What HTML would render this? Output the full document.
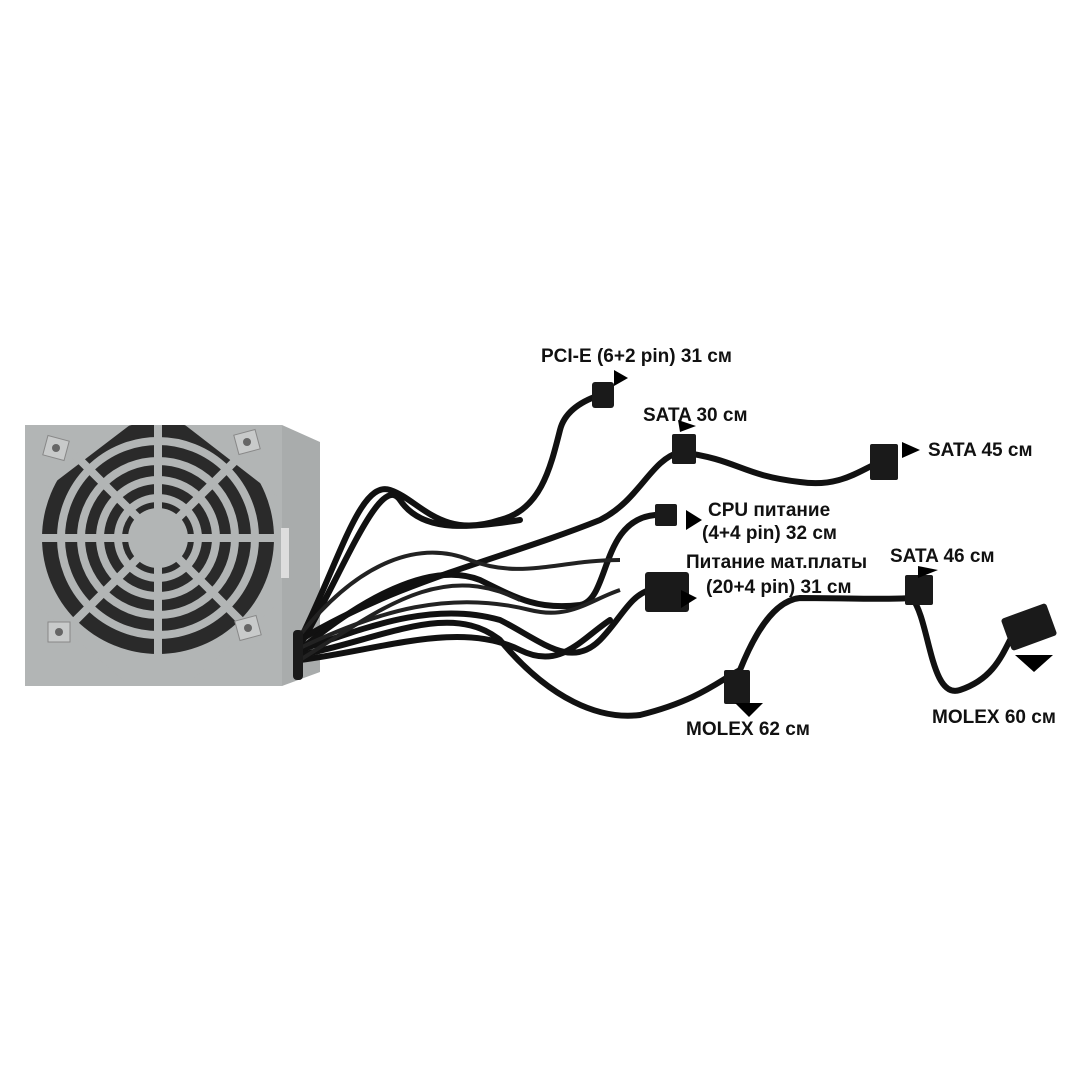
<!DOCTYPE html>
<html><head><meta charset="utf-8"><style>
html,body{margin:0;padding:0;background:#fff;width:1080px;height:1080px;overflow:hidden}
svg{display:block}
text{font-family:"Liberation Sans",sans-serif;font-weight:bold;font-size:19px;fill:#111}
</style></head><body>
<svg width="1080" height="1080" viewBox="0 0 1080 1080">
<defs><clipPath id="face"><rect x="25" y="425" width="257" height="260"/></clipPath></defs>
<polygon points="282,425 320,442 320,672 282,686" fill="#a9acac"/>
<rect x="25" y="425" width="257" height="261" fill="#b2b5b5"/>
<g clip-path="url(#face)">
<circle cx="158" cy="538" r="116" fill="#2a2a2a"/>
<polygon points="25,425 130,425 25,505" fill="#b2b5b5"/>
<polygon points="282,425 185,425 282,500" fill="#b2b5b5"/>
<polygon points="25,686 130,686 25,595" fill="#b2b5b5"/>
<polygon points="282,686 185,686 282,600" fill="#b2b5b5"/>
<g fill="none" stroke="#b2b5b5" stroke-width="8">
<circle cx="158" cy="538" r="97"/><circle cx="158" cy="538" r="77"/><circle cx="158" cy="538" r="58"/><circle cx="158" cy="538" r="40"/>
<line x1="158" y1="420" x2="158" y2="656"/><line x1="40" y1="538" x2="276" y2="538"/>
<line x1="75" y1="455" x2="241" y2="621"/><line x1="241" y1="455" x2="75" y2="621"/>
</g>
<circle cx="158" cy="538" r="30" fill="#b2b5b5"/>
</g>
<g fill="#c8caca" stroke="#888" stroke-width="1">
<rect x="45" y="438" width="22" height="20" transform="rotate(15 56 448)"/>
<rect x="236" y="432" width="22" height="20" transform="rotate(-15 247 442)"/>
<rect x="48" y="622" width="22" height="20"/>
<rect x="237" y="618" width="22" height="20" transform="rotate(-15 248 628)"/>
</g>
<g fill="#666"><circle cx="56" cy="448" r="4"/><circle cx="247" cy="442" r="4"/><circle cx="59" cy="632" r="4"/><circle cx="248" cy="628" r="4"/></g>
<rect x="281" y="528" width="8" height="50" fill="#ddd"/>
<g fill="none" stroke="#111" stroke-width="6" stroke-linecap="round">
<path d="M300,640 C340,560 360,480 390,490 C420,500 440,540 500,520 C540,510 550,470 560,430 C565,410 585,400 600,395"/>
<path d="M300,645 C340,580 380,470 400,500 C420,530 460,530 520,520"/>
<path d="M300,640 C400,580 500,560 600,520 C640,500 650,460 680,452"/>
<path d="M680,452 C740,460 740,475 800,482 C840,488 860,470 880,462"/>
<path d="M300,650 C360,600 430,560 480,580 C520,600 540,610 580,605 C610,600 600,520 655,515"/>
<path d="M300,650 C360,630 430,600 500,620 C540,640 570,670 600,640 C620,620 630,595 650,590"/>
<path d="M300,655 C380,640 450,600 500,640 C550,700 600,720 640,715 C700,700 720,680 740,670"/>
<path d="M740,670 C760,620 780,600 800,598 C850,598 880,600 912,598"/>
<path d="M912,598 C930,620 930,700 960,690 C990,680 1000,660 1010,640"/>
<path d="M300,660 C380,650 460,620 520,650 C560,670 580,640 610,620"/>
</g>
<g fill="none" stroke="#222" stroke-width="4">
<path d="M300,635 C360,560 420,540 470,560 C520,580 560,560 620,560"/>
<path d="M300,660 C380,610 440,560 520,600"/>
<path d="M300,648 C380,610 450,590 530,610 C570,620 590,600 620,590"/>
</g>
<g fill="#1a1a1a">
<rect x="592" y="382" width="22" height="26" rx="3"/>
<rect x="672" y="434" width="24" height="30" rx="2"/>
<rect x="870" y="444" width="28" height="36" rx="2"/>
<rect x="655" y="504" width="22" height="22" rx="2"/>
<rect x="645" y="572" width="44" height="40" rx="3"/>
<rect x="905" y="575" width="28" height="30" rx="2"/>
<rect x="1005" y="610" width="48" height="34" rx="3" transform="rotate(-20 1029 627)"/>
<rect x="724" y="670" width="26" height="34" rx="2"/>
<rect x="293" y="630" width="10" height="50" rx="4"/>
</g>
<g fill="#000">
<polygon points="614,370 628,378 614,386"/>
<polygon points="678,420 696,426 680,432"/>
<polygon points="902,442 920,450 902,458"/>
<polygon points="686,510 702,520 686,530"/>
<polygon points="681,590 697,598 681,608"/>
<polygon points="918,566 938,570 918,578"/>
<polygon points="1015,655 1053,655 1034,672"/>
<polygon points="735,703 763,703 749,717"/>
</g>
<text x="541" y="362">PCI-E (6+2 pin) 31 см</text>
<text x="643" y="421">SATA 30 см</text>
<text x="928" y="456">SATA 45 см</text>
<text x="708" y="516">CPU питание</text>
<text x="702" y="539">(4+4 pin) 32 см</text>
<text x="686" y="568">Питание мат.платы</text>
<text x="706" y="593">(20+4 pin) 31 см</text>
<text x="890" y="562">SATA 46 см</text>
<text x="932" y="723">MOLEX 60 см</text>
<text x="686" y="735">MOLEX 62 см</text>
</svg>
</body></html>
